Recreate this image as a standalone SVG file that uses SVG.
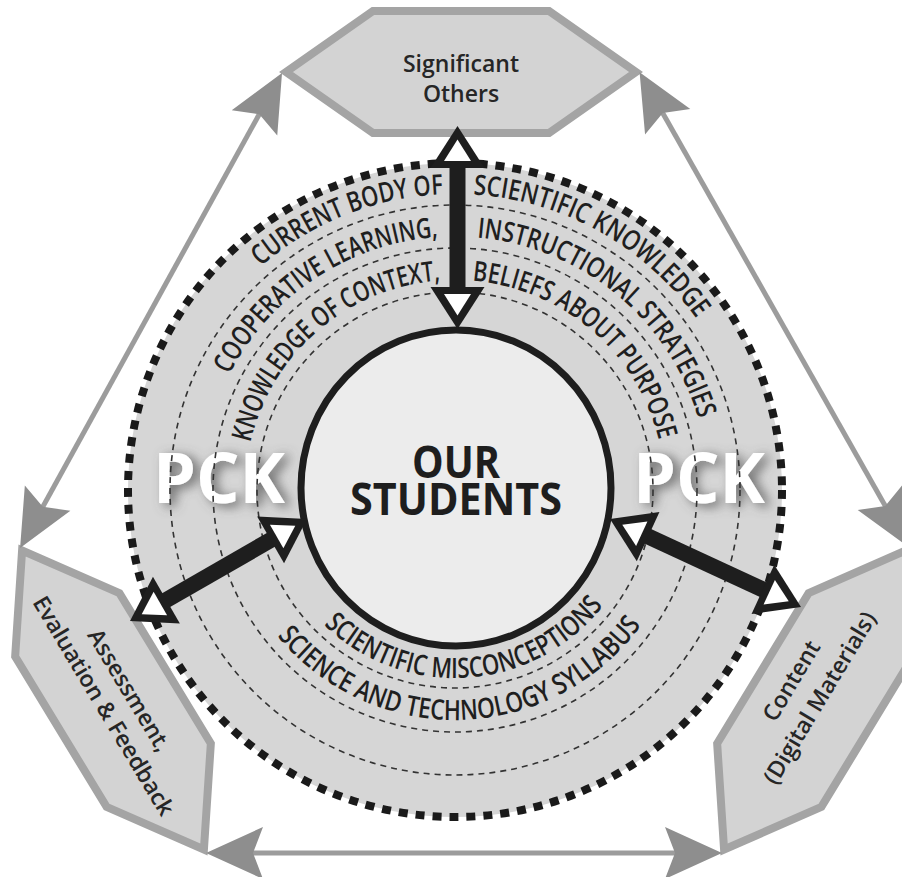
<svg xmlns="http://www.w3.org/2000/svg" width="902" height="877" viewBox="0 0 902 877">
<style>
.hex{fill:#d3d3d3;stroke:#a4a4a4;stroke-width:8;stroke-linejoin:miter}
.hl{font-family:"Open Sans","Liberation Sans",sans-serif;font-size:23px;font-weight:600;fill:#262626;text-anchor:middle}
.arc{font-family:"Open Sans","Liberation Sans",sans-serif;font-size:28px;font-weight:600;fill:#1f1f1f}
.gl{stroke:#9c9c9c;stroke-width:5;fill:none}
.sh{stroke:#1e1e1e;stroke-width:16;stroke-linecap:butt;fill:none}
.dl{fill:none;stroke:#333333;stroke-width:1.6;stroke-dasharray:6 5}
.pck{font-family:"Open Sans","Liberation Sans",sans-serif;font-size:70px;font-weight:700;fill:#ffffff;text-anchor:middle}
.os{font-family:"Open Sans","Liberation Sans",sans-serif;font-size:44px;font-weight:700;fill:#1e1e1e;text-anchor:middle}
</style>
<defs>
<marker id="gh" markerUnits="userSpaceOnUse" viewBox="-20 -30 64 60" markerWidth="64" markerHeight="60" refX="0" refY="0" orient="auto-start-reverse" overflow="visible"><path d="M40,0 L-17,-26 L-7,0 L-17,26 Z" fill="#8e8e8e"/></marker>
<g id="bh"><polygon points="0,0 27,42 -27,42" fill="#1e1e1e"/><polygon points="0,13.5 13.5,35 -13.5,35" fill="#ffffff"/></g>
<polygon id="hx" points="-88,-61 88,-61 175,0 88,61 -88,61 -175,0"/>
<filter id="ps" x="-30%" y="-30%" width="160%" height="160%"><feGaussianBlur in="SourceAlpha" stdDeviation="6"/><feOffset dx="6" dy="3" result="b"/><feFlood flood-color="#555555" flood-opacity="0.85"/><feComposite in2="b" operator="in"/><feMerge><feMergeNode/><feMergeNode in="SourceGraphic"/></feMerge></filter>
<path id="p1" d="M159,490 A296,296 0 0 1 751,490"/>
<path id="p2" d="M201.5,490 A253.5,253.5 0 0 1 708.5,490"/>
<path id="p3" d="M245,490 A210,210 0 0 1 665,490"/>
<path id="b1" d="M267,490 A188,188 0 0 0 643,490"/>
<path id="b2" d="M225,490 A230,230 0 0 0 685,490"/>
</defs>
<rect width="902" height="877" fill="#ffffff"/>

<g id="significant-others">
<use href="#hx" class="hex" transform="translate(461,72)"/>
<text class="hl" x="461" y="72">Significant</text>
<text class="hl" x="461" y="102">Others</text>
</g>

<g id="assessment">
<use href="#hx" class="hex" transform="translate(113,700) rotate(58.7)"/>
<g transform="translate(116.5,698) rotate(59)">
<text class="hl" x="0" y="-7">Assessment,</text>
<text class="hl" x="0" y="23">Evaluation &amp; Feedback</text>
</g>
</g>

<g id="content">
<use href="#hx" class="hex" transform="translate(815,700) rotate(-58.7)"/>
<g transform="translate(805,689) rotate(-59)">
<text class="hl" x="0" y="-8">Content</text>
<text class="hl" x="0" y="25">(Digital Materials)</text>
</g>
</g>

<g id="pck-ring">
<circle cx="455" cy="490" r="327" fill="#d6d6d6"/>
<text class="pck" x="219" y="503" textLength="132" lengthAdjust="spacingAndGlyphs" filter="url(#ps)">PCK</text>
<text class="pck" x="699" y="503" textLength="132" lengthAdjust="spacingAndGlyphs" filter="url(#ps)">PCK</text>
<circle class="dl" cx="455" cy="490" r="198"/>
<circle class="dl" cx="455" cy="490" r="242"/>
<circle class="dl" cx="455" cy="490" r="285"/>
<circle cx="455" cy="490" r="327" fill="none" stroke="#1a1a1a" stroke-width="8" stroke-dasharray="9 8"/>
<text class="arc"><textPath href="#p1" startOffset="253" textLength="200" lengthAdjust="spacingAndGlyphs">CURRENT BODY OF</textPath></text>
<text class="arc"><textPath href="#p1" startOffset="483" textLength="264" lengthAdjust="spacingAndGlyphs">SCIENTIFIC KNOWLEDGE</textPath></text>
<text class="arc"><textPath href="#p2" startOffset="120" textLength="261" lengthAdjust="spacingAndGlyphs">COOPERATIVE LEARNING,</textPath></text>
<text class="arc"><textPath href="#p2" startOffset="420" textLength="304" lengthAdjust="spacingAndGlyphs">INSTRUCTIONAL STRATEGIES</textPath></text>
<text class="arc"><textPath href="#p3" startOffset="48" textLength="267" lengthAdjust="spacingAndGlyphs">KNOWLEDGE OF CONTEXT,</textPath></text>
<text class="arc"><textPath href="#p3" startOffset="347" textLength="262" lengthAdjust="spacingAndGlyphs">BELIEFS ABOUT PURPOSE</textPath></text>
<text class="arc"><textPath href="#b1" startOffset="150" textLength="316" lengthAdjust="spacingAndGlyphs">SCIENTIFIC MISCONCEPTIONS</textPath></text>
<text class="arc"><textPath href="#b2" startOffset="158" textLength="420" lengthAdjust="spacingAndGlyphs">SCIENCE AND TECHNOLOGY SYLLABUS</textPath></text>
</g>

<g id="our-students">
<ellipse cx="456" cy="488" rx="155" ry="158" fill="#ececec" stroke="#1e1e1e" stroke-width="7"/>
<text class="os" x="456" y="478" textLength="88" lengthAdjust="spacingAndGlyphs">OUR</text>
<text class="os" x="456" y="515" textLength="212" lengthAdjust="spacingAndGlyphs">STUDENTS</text>
</g>

<g id="connectors">
<line class="gl" x1="262.7" y1="108" x2="39.4" y2="513" marker-start="url(#gh)" marker-end="url(#gh)"/>
<line class="gl" x1="659.3" y1="107" x2="888.7" y2="512" marker-start="url(#gh)" marker-end="url(#gh)"/>
<line class="gl" x1="246" y1="853" x2="682" y2="853" marker-start="url(#gh)" marker-end="url(#gh)"/>
<line class="sh" x1="457.5" y1="166" x2="457.5" y2="289"/>
<line class="sh" x1="164.4" y1="601.1" x2="272.6" y2="538.9"/>
<line class="sh" x1="764.9" y1="590.4" x2="646.1" y2="535.6"/>
<use href="#bh" transform="translate(457.5,126)"/>
<use href="#bh" transform="translate(457.5,329) rotate(180)"/>
<use href="#bh" transform="translate(130,621) rotate(-119.9)"/>
<use href="#bh" transform="translate(307,519) rotate(60.1)"/>
<use href="#bh" transform="translate(801,607) rotate(114.8)"/>
<use href="#bh" transform="translate(610,519) rotate(-65.2)"/>
</g>
</svg>
